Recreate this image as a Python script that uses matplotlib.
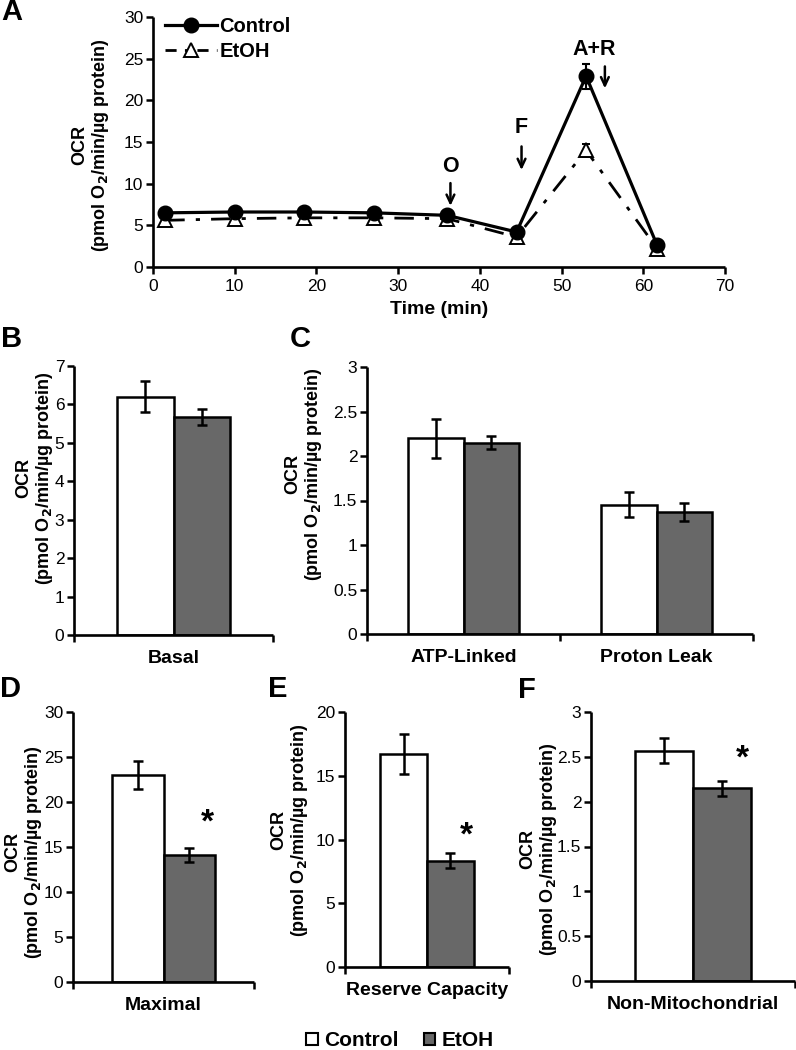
import matplotlib
matplotlib.use("Agg")
import matplotlib.pyplot as plt
from matplotlib.patches import Patch
from matplotlib.lines import Line2D
import numpy as np

plt.rcParams['font.family'] = ['Liberation Sans', 'DejaVu Sans']

# ---------------- data ----------------
time_min = [1.5, 10, 18.5, 27, 36, 44.5, 53, 61.7]
ctrl_ocr = [6.5, 6.6, 6.6, 6.5, 6.2, 4.2, 22.9, 2.6]
ctrl_err = [0.2, 0.2, 0.2, 0.2, 0.2, 0.2, 1.5, 0.2]
etoh_ocr = [5.6, 5.8, 5.9, 5.9, 5.8, 3.6, 14.0, 2.2]
etoh_err = [0.2, 0.2, 0.2, 0.2, 0.2, 0.2, 0.8, 0.2]

injections = ["O", "F", "A+R"]
inj_time = [36.4, 45.1, 55.3]

basal_cat = ["Basal"]
basal_ctrl = [6.2]; basal_ctrl_err = [0.4]
basal_etoh = [5.67]; basal_etoh_err = [0.2]

c_cat = ["ATP-Linked", "Proton Leak"]
c_ctrl = [2.2, 1.45]; c_ctrl_err = [0.22, 0.14]
c_etoh = [2.15, 1.37]; c_etoh_err = [0.07, 0.10]

max_cat = ["Maximal"]
max_ctrl = [23.0]; max_ctrl_err = [1.55]
max_etoh = [14.1]; max_etoh_err = [0.75]

res_cat = ["Reserve Capacity"]
res_ctrl = [16.7]; res_ctrl_err = [1.55]
res_etoh = [8.35]; res_etoh_err = [0.6]

nm_cat = ["Non-Mitochondrial"]
nm_ctrl = [2.57]; nm_ctrl_err = [0.135]
nm_etoh = [2.15]; nm_etoh_err = [0.085]

W, H = 796, 1050
fig = plt.figure(figsize=(W / 100, H / 100), dpi=100)


def ax_px(l, r, t, b):
    return fig.add_axes([l / W, 1 - b / H, (r - l) / W, (b - t) / H])


SPW = 1.9
GRAY = '#686868'
TICK_FS = 12.5


def style(ax):
    for s in ['top', 'right']:
        ax.spines[s].set_visible(False)
    for s in ['left', 'bottom']:
        ax.spines[s].set_linewidth(SPW)
        ax.spines[s].set_capstyle('butt')
    ax.tick_params(axis='y', direction='out', length=5, width=1.8, labelsize=TICK_FS, pad=2)


def ylab(x, y):
    fig.text(x / W, 1 - y / H, "OCR\n(pmol O$_\\mathbf{2}$/min/µg protein)", rotation=90,
             ha='center', va='center', fontsize=13, fontweight='bold', linespacing=1.15)


def letter(s, x, y):
    fig.text(x / W, 1 - y / H, s, ha='center', va='center', fontsize=21, fontweight='bold')


def bars(ax, cats, ctrl, cerr, etoh, eerr, ymax, ystep, star=None):
    style(ax)
    n = len(cats)
    x = np.arange(n)
    w = 0.285
    ax.bar(x - w / 2, ctrl, w, color='white', edgecolor='black', linewidth=1.8, zorder=2)
    ax.bar(x + w / 2, etoh, w, color=GRAY, edgecolor='black', linewidth=1.8, zorder=2)
    ax.errorbar(x - w / 2, ctrl, yerr=cerr, fmt='none', ecolor='black', elinewidth=1.8,
                capsize=3.5, capthick=1.8, zorder=3)
    ax.errorbar(x + w / 2, etoh, yerr=eerr, fmt='none', ecolor='black', elinewidth=1.8,
                capsize=3.5, capthick=1.8, zorder=3)
    ax.set_xlim(-0.5, n - 0.5)
    ax.set_ylim(0, ymax)
    ax.set_yticks(np.arange(0, ymax + ystep / 2, ystep))
    ax.set_yticklabels([('%g' % v) for v in np.arange(0, ymax + ystep / 2, ystep)])
    ax.set_xticks(x)
    ax.set_xticklabels(cats, fontsize=14, fontweight='bold')
    ax.set_xticks(np.arange(-0.5, n, 1.0), minor=True)
    ax.tick_params(axis='x', which='major', length=0, pad=11)
    ax.tick_params(axis='x', which='minor', direction='out', length=5, width=1.8)
    if star is not None:
        for xi, sv in zip(x, star):
            ax.text(xi + w * 0.85, sv, "*", ha='center', va='center', fontsize=24, fontweight='bold')


# ---------------- Panel A ----------------
axA = ax_px(153, 725, 17, 267)
style(axA)
ls_etoh = (0, (7, 4, 1.5, 4))
axA.errorbar(time_min, ctrl_ocr, yerr=ctrl_err, color='black', linewidth=2.3, marker='o',
             markersize=10.5, markerfacecolor='black', markeredgecolor='black',
             ecolor='black', elinewidth=1.5, capsize=3, capthick=1.5, zorder=3)
axA.errorbar(time_min, etoh_ocr, yerr=etoh_err, color='black', linewidth=2.0, linestyle=ls_etoh,
             marker='^', markersize=9.5, markerfacecolor='white', markeredgecolor='black',
             markeredgewidth=1.4, ecolor='black', elinewidth=1.5, capsize=3, capthick=1.5,
             zorder=2)
axA.set_xlim(0, 70)
axA.set_ylim(0, 30)
axA.set_xticks(range(0, 71, 10))
axA.set_yticks(range(0, 31, 5))
axA.tick_params(axis='x', direction='out', length=5, width=1.8, labelsize=TICK_FS, pad=4)
axA.set_xlabel("Time (min)", fontsize=14, fontweight='bold', labelpad=5)
leg_handles = [Line2D([], [], color='black', lw=2.3, marker='o', markersize=10.5, label='Control'),
               Line2D([], [], color='black', lw=2.0, linestyle=(0, (4, 3, 1.5, 3)), marker='^',
                      markersize=9.5, markerfacecolor='white', markeredgewidth=1.4, label='EtOH')]
axA.legend(handles=leg_handles, loc='upper left', bbox_to_anchor=(0.0, 1.05), frameon=False,
           handlelength=2.6, handletextpad=0.1, borderaxespad=0.2, labelspacing=0.3,
           prop={'weight': 'bold', 'size': 14.5})
inj_label_y = [12.0, 16.7, 26.1]
inj_arrow_top = [10.4, 14.8, 24.4]
inj_arrow_bot = [7.0, 11.3, 21.1]
for s, t, ly, at, ab in zip(injections, inj_time, inj_label_y, inj_arrow_top, inj_arrow_bot):
    axA.annotate("", xy=(t, ab), xytext=(t, at),
                 arrowprops=dict(arrowstyle='->,head_length=0.6,head_width=0.28', color='black', lw=1.8))
    axA.text(t if s != "A+R" else t - 1.3, ly, s, ha='center', va='center', fontsize=15.5, fontweight='bold')
ylab(91, 145)
letter("A", 12, 12)

# ---------------- Panel B ----------------
axB = ax_px(74, 273, 366, 635)
bars(axB, basal_cat, basal_ctrl, basal_ctrl_err, basal_etoh, basal_etoh_err, 7, 1)
ylab(35, 478)
letter("B", 12, 339)

# ---------------- Panel C ----------------
axC = ax_px(367, 753, 367, 634)
bars(axC, c_cat, c_ctrl, c_ctrl_err, c_etoh, c_etoh_err, 3, 0.5)
ylab(304, 474)
letter("C", 300, 339)

# ---------------- Panel D ----------------
axD = ax_px(73, 254, 712, 982)
bars(axD, max_cat, max_ctrl, max_ctrl_err, max_etoh, max_etoh_err, 30, 5, star=[17.7])
ylab(24, 852)
letter("D", 11, 689)

# ---------------- Panel E ----------------
axE = ax_px(345, 509, 712, 967)
bars(axE, res_cat, res_ctrl, res_ctrl_err, res_etoh, res_etoh_err, 20, 5, star=[10.3])
ylab(290, 830)
letter("E", 278, 689)

# ---------------- Panel F ----------------
axF = ax_px(591, 795, 712, 981)
bars(axF, nm_cat, nm_ctrl, nm_ctrl_err, nm_etoh, nm_etoh_err, 3, 0.5, star=[2.47])
ylab(539, 849)
letter("F", 527, 690)

# ---------------- bottom legend ----------------
handles = [Patch(facecolor='white', edgecolor='black', linewidth=1.5, label='Control'),
           Patch(facecolor=GRAY, edgecolor='black', linewidth=1.5, label='EtOH')]
fig.legend(handles=handles, loc='center', bbox_to_anchor=(400 / W, 1 - 1041 / H), ncol=2,
           frameon=False, handlelength=0.55, handleheight=0.55, handletextpad=0.3, columnspacing=1.2,
           prop={'weight': 'bold', 'size': 15})

fig.savefig("out.png", dpi=100)
